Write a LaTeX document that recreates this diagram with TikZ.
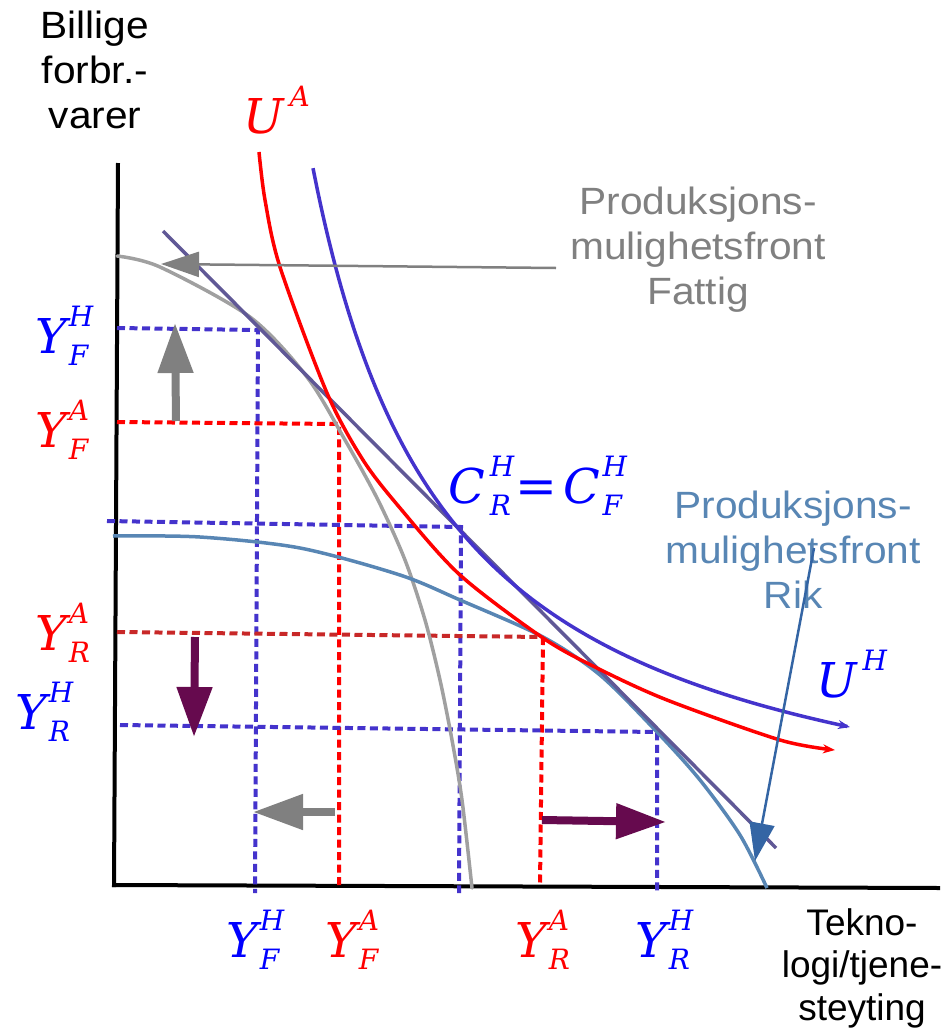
\documentclass[tikz,border=0pt]{standalone}
\usepackage{fontspec}
\usetikzlibrary{arrows.meta}
\newfontfamily\lsans{Liberation Sans}[FakeStretch=1.07]
\newfontfamily\lsansplain{Liberation Sans}
\newfontfamily\dvs{DejaVu Serif}
\definecolor{ucolH}{RGB}{68,51,204}
\definecolor{poorgray}{RGB}{160,160,160}
\definecolor{tangc}{RGB}{96,88,150}
\definecolor{richc}{RGB}{88,134,180}
\definecolor{annblue}{RGB}{52,101,164}
\definecolor{purp}{RGB}{102,10,78}
\definecolor{arrgray}{RGB}{128,128,128}
\definecolor{darkred}{RGB}{200,40,40}
\definecolor{labblue}{RGB}{0,0,255}
\definecolor{labred}{RGB}{255,0,0}
\newcommand\mainsz{\dvs\itshape\fontsize{48}{48}\selectfont}
\newcommand\scrsz{\dvs\itshape\fontsize{28}{28}\selectfont}
\newcommand\mlab[4][2pt]{{\mainsz #2}\kern#1\rlap{\raisebox{27pt}{\scrsz #3}}\raisebox{-12pt}{\scrsz #4}}
\begin{document}
\begin{tikzpicture}[x=1pt,y=-1pt,
  axisline/.style={line width=4pt,black},
  curve/.style={line width=3.5pt},
  dashline/.style={line width=4pt,dash pattern=on 8pt off 4.5pt},
  blockarrow/.style={line width=8pt,-{Triangle[length=50pt,width=34pt]}},
  annarrow/.style={line width=2.5pt,-{Triangle[length=38pt,width=25pt]}},
  txt/.style={inner sep=0pt,align=center,font=\lsans\fontsize{38}{45}\selectfont},
  mlabel/.style={inner sep=0pt,anchor=base west}]
\useasboundingbox (0,0) rectangle (947,1028);
% axes
\draw[axisline] (118,163) -- (114,887);
\draw[axisline] (112,885) -- (940,888);
% dashed guide lines
\draw[dashline,ucolH] (117,328) -- (258,330) -- (255,893);
\draw[dashline,labred] (117,422) -- (339,424) -- (339,885);
\draw[dashline,ucolH] (107,521) -- (461,527) -- (459,893);
\draw[dashline,darkred] (117,632) -- (543,637);
\draw[dashline,labred] (543,637) -- (540,885);
\draw[dashline,ucolH] (120,725) -- (657,732) -- (657,893);
% poor PPF
\draw[curve,poorgray,line cap=round] plot[smooth] coordinates {(117,256) (160,267) (250,317) (307,377) (345,440) (378,500) (405,560) (425,620) (440,680) (452,740) (462,800) (472,888)};
% rich PPF
\draw[curve,richc] plot[smooth] coordinates {(113,536) (200,537) (300,548) (400,575) (460,600) (543,637) (600,675) (657,732) (700,780) (740,835) (767,888)};
% tangent line
\draw[curve,tangc] (163,231) -- (776,848);
% indifference curves
\draw[curve,labred,-{Stealth[length=12pt,width=9pt]}] plot[smooth] coordinates {(259,152) (265,200) (280,267) (327,393) (363,460) (400,508) (460,575) (543,638) (597,668) (667,700) (780,740) (835,750)};
\draw[curve,ucolH,-{Stealth[length=12pt,width=9pt]}] plot[domain=313:850,samples=120,smooth] (\x,{870.7-969.5/((\x-175)/100)});
% block arrows
\draw[blockarrow,arrgray] (176,421) -- (175,323);
\draw[blockarrow,arrgray] (335,812) -- (253,812);
\draw[blockarrow,purp] (195,637) -- (194,737);
\draw[blockarrow,purp] (542,820) -- (666,822);
% labels
\node[txt,anchor=north] (ylab) at (95,11) {Billige\\forbr.-\\varer};
\node[txt,anchor=north,font=\lsansplain\fontsize{37}{42.5}\selectfont] (xlab) at (862,908) {Tekno-\\logi/tjene-\\steyting};
\node[txt,anchor=north,text=arrgray] (pfattig) at (698,187) {Produksjons-\\mulighetsfront\\Fattig};
\node[txt,anchor=north,text=richc] (prik) at (793,491) {Produksjons-\\mulighetsfront\\Rik};
\coordinate (fattigfrom) at (556,268);
\coordinate (fattigto) at (161,264);
\coordinate (rikfrom) at (814,548);
\coordinate (rikto) at (755,861);
\draw[annarrow,arrgray] (fattigfrom) -- (fattigto);
\draw[annarrow,annblue] (rikfrom) -- (rikto);
% math labels
\node[mlabel,text=labred] (UA) at (243,133) {\mlab[6pt]{U}{A}{}};
\node[mlabel,text=labblue] (UH) at (816,697) {\mlab[6pt]{U}{H}{}};
\node[mlabel,text=labblue] (C) at (448,503) {\mlab[5pt]{C}{H}{R}\kern4pt{\dvs\fontsize{50}{50}\selectfont=}\kern7pt\mlab[2pt]{C}{H}{F}};
\node[mlabel,text=labblue] (yfh) at (35,353) {\mlab{Y}{H}{F}};
\node[mlabel,text=labred] (yfa) at (35,447) {\mlab{Y}{A}{F}};
\node[mlabel,text=labred] (yra) at (35,650) {\mlab{Y}{A}{R}};
\node[mlabel,text=labblue] (yrh) at (15,729) {\mlab{Y}{H}{R}};
\node[mlabel,text=labblue] (xfh) at (226,957) {\mlab{Y}{H}{F}};
\node[mlabel,text=labred] (xfa) at (325,957) {\mlab{Y}{A}{F}};
\node[mlabel,text=labred] (xra) at (515,957) {\mlab{Y}{A}{R}};
\node[mlabel,text=labblue] (xrh) at (635,957) {\mlab{Y}{H}{R}};
\end{tikzpicture}
\end{document}
